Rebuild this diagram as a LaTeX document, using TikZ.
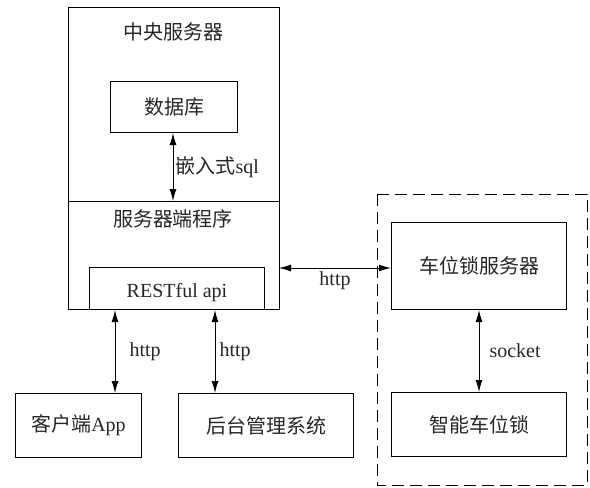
\documentclass[tikz,border=0pt]{standalone}
\usepackage{fontspec}
\setmainfont{Liberation Serif}
\newfontfamily\cjk{Noto Sans CJK SC}
\usetikzlibrary{arrows.meta}
\begin{document}
\begin{tikzpicture}[x=1pt,y=-1pt,
  box/.style={draw,line width=1pt},
  lbl/.style={inner sep=0pt,text=black!85,font=\fontsize{20}{22}\selectfont},
  link/.style={line width=1pt,{Latex[length=12pt,width=7pt]}-{Latex[length=12pt,width=7pt]}},
  dashbox/.style={draw,line width=1pt,dash pattern=on 12pt off 6pt}]
\useasboundingbox (0,0) rectangle (590,488);

% central server and its parts
\draw[box] (68,7) rectangle (279,309);
\draw[box] (68,201) -- (279,201);
\node[box,minimum width=127pt,minimum height=51pt,anchor=north west,inner sep=0pt] (db) at (110,81) {};
\node[box,minimum width=175pt,minimum height=42pt,anchor=north west,inner sep=0pt] (api) at (89,267) {};
\coordinate (srvR) at (279,268);
\coordinate (divM) at (173,201);

\node[lbl] (central) at (173,32) {\cjk 中央服务器};
\node[lbl] at (db.center) {\cjk 数据库};
\node[lbl] (prog) at (173,219) {\cjk 服务器端程序};
\node[lbl] at ([yshift=-4pt]api.center) {RESTful api};

% clients
\node[box,minimum width=126pt,minimum height=64pt,anchor=north west,inner sep=0pt] (app) at (15,393) {};
\node[lbl] at (app.center) {{\cjk 客户端}App};
\node[box,minimum width=175pt,minimum height=64pt,anchor=north west,inner sep=0pt] (admin) at (178,393) {};
\node[lbl] at (admin.center) {\cjk 后台管理系统};

% parking lock subsystem
\draw[dashbox] (377,194) rectangle (587,485);
\node[box,minimum width=175pt,minimum height=87pt,anchor=north west,inner sep=0pt] (lsrv) at (391,222) {};
\node[lbl] at (lsrv.center) {\cjk 车位锁服务器};
\node[box,minimum width=175pt,minimum height=64pt,anchor=north west,inner sep=0pt] (lock) at (391,392) {};
\node[lbl] at (lock.center) {\cjk 智能车位锁};

% connections
\draw[link] (db.south -| divM) -- node[lbl,right=2pt] {{\cjk 嵌入式}sql} (divM);
\draw[link] (srvR) -- node[lbl,below=3pt] {http} (lsrv.west |- srvR);
\draw[link] (api.south -| 115,0) -- node[lbl,right=14pt] {http} (app.north -| 115,0);
\draw[link] (api.south -| 215,0) -- node[lbl,right=4pt] {http} (admin.north -| 215,0);
\draw[link] (lsrv.south) -- node[lbl,right=10pt] {socket} (lock.north);
\end{tikzpicture}
\end{document}
